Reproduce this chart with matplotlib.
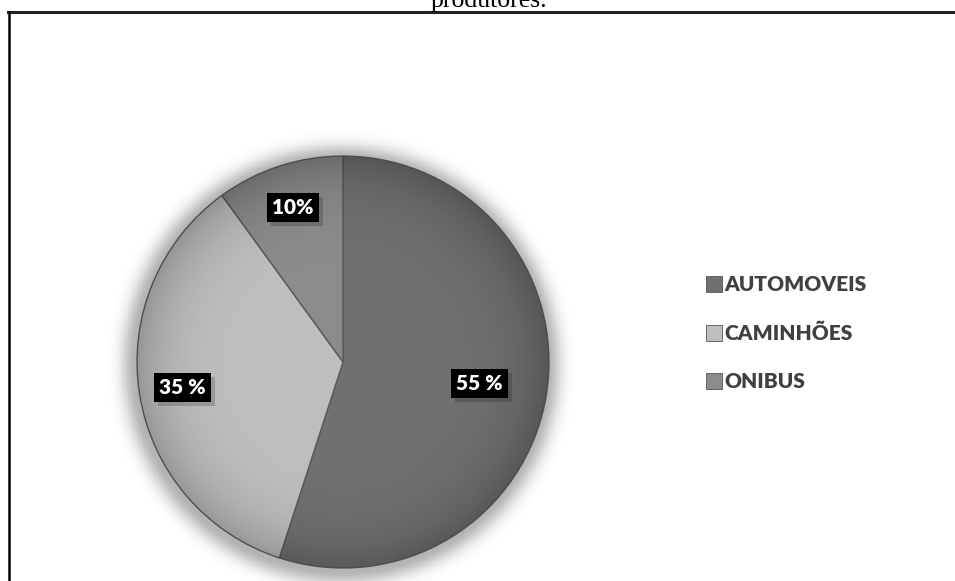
import numpy as np
import matplotlib
matplotlib.use("Agg")
from matplotlib import pyplot as plt
from matplotlib import patheffects as pe
from matplotlib.lines import Line2D
from matplotlib.patches import Circle

# vehicle share
categories = ["AUTOMOVEIS", "CAMINHÕES", "ONIBUS"]
shares = [55, 35, 10]
pct_labels = ["55 %", "35 %", "10%"]
colors = ["#707070", "#bebebe", "#8b8b8b"]
label_dist = [0.67, 0.79, 0.79]

W, H = 955, 581
fig = plt.figure(figsize=(W / 100, H / 100), dpi=100)
fig.patch.set_facecolor("white")

# pie axes: centre (343, 362) px, radius 206 px, limits +-1.2
cx, cy, r = 343, 362, 206
lim = 1.2
half = r * lim
ax = fig.add_axes([(cx - half) / W, (H - cy - half) / H, 2 * half / W, 2 * half / H])

# soft shadow round the pie
g = np.linspace(-lim, lim, 400)
gx, gy = np.meshgrid(g, g)
rr = np.hypot(gx + 0.01, gy + 0.015)
glow = np.where(rr > 1, np.exp(-((rr - 1) / 0.07) ** 2), 1.0)
rgba = np.zeros((400, 400, 4))
rgba[..., 3] = glow * 0.3
ax.imshow(rgba, extent=(-lim, lim, -lim, lim), origin="lower", zorder=0)

wedges, _ = ax.pie(shares, colors=colors, startangle=90, counterclock=False,
                   radius=1, wedgeprops=dict(edgecolor="#5a5a5a", linewidth=1.0))
for w in wedges:
    w.set_zorder(1)

# darker rim towards the edge of the disc
rim = np.zeros((400, 400, 4))
rim[..., 3] = np.clip(rr, 0, 1) ** 6 * 0.22
im = ax.imshow(rim, extent=(-lim, lim, -lim, lim), origin="lower", zorder=2)
im.set_clip_path(Circle((0, 0), 1, transform=ax.transData))

ax.set_xlim(-lim, lim)
ax.set_ylim(-lim, lim)
ax.set_aspect("equal")
ax.axis("off")

for w, txt, d in zip(wedges, pct_labels, label_dist):
    ang = np.deg2rad((w.theta1 + w.theta2) / 2)
    t = ax.text(d * np.cos(ang), d * np.sin(ang), txt, ha="center", va="center",
                fontsize=15, fontweight="heavy", family="Lato", color="white", zorder=4,
                bbox=dict(boxstyle="square,pad=0.25", fc="black", ec="none"))
    t.get_bbox_patch().set_path_effects(
        [pe.SimplePatchShadow(offset=(3, -3), shadow_rgbFace="black", alpha=0.18), pe.Normal()])

# legend
handles = [Line2D([], [], marker="s", linestyle="none", markersize=11,
                  markerfacecolor=c, markeredgecolor="#555555", markeredgewidth=0.6)
           for c in colors]
leg = fig.legend(handles, categories, loc="upper left",
                 bbox_to_anchor=(695 / W, 1 - 265 / H), frameon=False,
                 handlelength=0.8, handletextpad=0.1, labelspacing=1.4,
                 borderpad=0, prop=dict(family="Lato", weight="heavy", size=15))
for t in leg.get_texts():
    t.set_color("#404040")

# frame lines and the cut-off caption above it
fig.add_artist(Line2D([8 / W, 1], [1 - 11.5 / H] * 2, color="#222222", linewidth=2.2))
fig.add_artist(Line2D([8.5 / W] * 2, [0, 1 - 11.5 / H], color="black", linewidth=1.8))
fig.text(489 / W, 1 - 7 / H, "produtores.", ha="center", va="baseline",
         family="Liberation Serif", fontsize=18.5, color="black")

fig.savefig("out.png", dpi=100, facecolor="white")
